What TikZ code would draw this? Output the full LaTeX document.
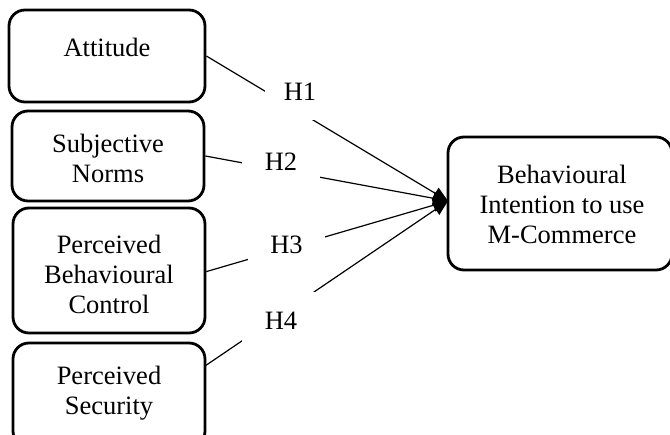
\documentclass[tikz,border=0pt]{standalone}
\usepackage{fontspec}
\setmainfont{Liberation Serif}
\usetikzlibrary{arrows.meta}
\begin{document}
\begin{tikzpicture}[x=1pt,y=-1pt,
  box/.style={draw,line width=2.8pt,rounded corners=16pt,inner sep=0pt},
  txt/.style={align=center,inner sep=0pt,font=\fontsize{26.5}{30}\selectfont},
  hyp/.style={fill=white,inner sep=0pt,font=\fontsize{26.5}{30}\selectfont},
  link/.style={line width=1.2pt,-{Triangle[length=15pt,width=13pt]}}]
\clip (0,0) rectangle (670,435);
% boxes
\node[box,minimum width=196pt,minimum height=92pt] (att) at (107,56) {};
\node[box,minimum width=192pt,minimum height=90pt] (sn) at (108,156) {};
\node[box,minimum width=192pt,minimum height=125pt] (pbc) at (109,270.5) {};
\node[box,minimum width=192pt,minimum height=104pt] (ps) at (109,395) {};
\node[box,minimum width=224pt,minimum height=133pt] (bi) at (560,203.5) {};
% texts
\node[txt] (attT) at (107,47) {Attitude};
\node[txt] (snT) at (108,158) {Subjective\\Norms};
\node[txt] (pbcT) at (109,274) {Perceived\\Behavioural\\Control};
\node[txt] (psT) at (109,393) {Perceived\\Security};
\node[txt] (biT) at (562,204) {Behavioural\\Intention to use\\M-Commerce};
% connectors
\coordinate (tip) at (448,201);
\draw[link] (att.east) -- (tip);
\draw[link] (sn.east) -- (tip);
\draw[link] (205,272) coordinate (pbcE) -- (tip);
\draw[link] (205,366) coordinate (psE) -- (tip);
% hypothesis labels (mask the lines)
\node[hyp,minimum width=70pt,minimum height=56pt] (h1) at (300,92) {H1};
\node[hyp,minimum width=78pt,minimum height=58pt] (h2) at (281,162) {H2};
\node[hyp,minimum width=77pt,minimum height=50pt] (h3) at (286.5,245) {H3};
\node[hyp,minimum width=78pt,minimum height=58pt] (h4) at (281,321) {H4};
\end{tikzpicture}
\end{document}
